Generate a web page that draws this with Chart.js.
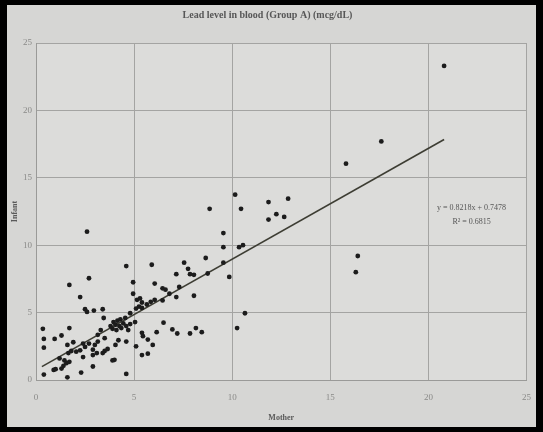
<!DOCTYPE html>
<html>
<head>
<meta charset="utf-8">
<script src="https://cdn.jsdelivr.net/npm/chart.js@4/dist/chart.umd.min.js"></script>
<style>
  html, body { margin: 0; padding: 0; background: #000; }
  #wrap { position: relative; width: 543px; height: 432px; }
</style>
</head>
<body>
<div id="wrap"><canvas id="c" width="543" height="432"></canvas></div>
<script>
// Blood lead levels (mcg/dL), Group A: mother vs. infant
const mother = [
  20.8, 17.6, 15.8, 16.4, 16.3,
  10.15, 10.45, 11.85, 12.85, 12.25, 12.65, 11.85, 9.55, 9.55, 10.35, 10.55, 9.55, 9.85, 10.65, 10.25, 8.85,
  5.9, 8.65, 7.55, 7.75, 7.85, 8.05, 7.15, 8.75, 6.05, 6.45, 6.6, 7.3, 6.8, 7.15, 8.05, 6.45, 6.5, 6.15, 6.95, 7.2, 7.85, 8.15, 8.45,
  4.6, 4.95, 4.95,
  5.15, 5.3, 5.4, 5.25, 5.4, 5.65, 5.85, 6.05,
  5.1, 4.8, 5.4, 5.45, 5.7, 5.95, 5.1, 5.4, 5.7, 4.0, 4.6,
  2.6, 2.7, 1.7, 2.25, 2.5, 2.6, 2.95, 3.4, 3.45,
  0.35, 1.7, 1.3, 0.95, 0.4, 0.4,
  1.9, 1.6, 2.4, 2.7, 3.15, 3.3, 3.5, 4.2, 4.6, 4.05,
  3.8, 3.95, 4.05, 4.15, 4.25, 4.3, 4.45, 4.55, 4.7, 4.8, 5.05, 4.1, 3.9, 4.35, 4.6,
  1.2, 1.45, 1.65, 1.8, 2.05, 2.25, 2.5, 2.9, 3.0, 3.15, 3.1, 2.9, 3.4, 3.5, 3.65, 2.4,
  0.9, 1.0, 1.3, 1.4, 1.55, 1.7,
  0.4, 1.6, 2.3, 2.9, 3.9
];
const infant = [
  23.3, 17.7, 16.05, 9.2, 8.0,
  13.75, 12.7, 13.2, 13.45, 12.3, 12.1, 11.9, 10.9, 9.85, 9.85, 10.0, 8.7, 7.65, 4.95, 3.85, 12.7,
  8.55, 9.05, 8.7, 8.25, 7.85, 7.8, 7.85, 7.9, 7.15, 6.8, 6.7, 6.9, 6.4, 6.15, 6.25, 5.9, 4.25, 3.55, 3.75, 3.45, 3.45, 3.85, 3.55,
  8.45, 7.25, 6.4,
  5.95, 6.05, 5.75, 5.45, 5.35, 5.6, 5.8, 5.95,
  5.3, 4.95, 3.5, 3.25, 3.0, 2.6, 2.5, 1.85, 1.95, 1.5, 0.45,
  11.0, 7.55, 7.05, 6.15, 5.25, 5.05, 5.15, 5.25, 4.6,
  3.8, 3.85, 3.3, 3.05, 3.05, 2.4,
  2.8, 2.6, 2.7, 2.7, 3.35, 3.7, 3.1, 2.95, 2.85, 2.6,
  4.0, 4.3, 4.1, 4.4, 4.0, 4.5, 4.2, 4.6, 3.7, 4.15, 4.3, 3.7, 3.8, 3.85, 4.0,
  1.6, 1.45, 2.0, 2.15, 2.1, 2.2, 2.45, 2.25, 2.6, 2.85, 2.0, 1.85, 2.0, 2.15, 2.3, 1.7,
  0.75, 0.8, 0.85, 1.05, 1.25, 1.35,
  0.4, 0.2, 0.55, 1.0, 1.45
];

// Linear trend fitted to the data
const slope = 0.8218;
const intercept = 0.7478;
const rSquared = 0.6815;
const trendRange = [0.3, 20.8];

const axisTicks = [0, 5, 10, 15, 20, 25];

const chartTitle = 'Lead level in blood (Group A) (mcg/dL)';
const xTitle = 'Mother';
const yTitle = 'Infant';

const points = mother.map((m, i) => ({ x: m, y: infant[i] }));
const trend = trendRange.map(x => ({ x: x, y: slope * x + intercept }));

const serif = '"Liberation Serif", "DejaVu Serif", serif';

// Black photo frame with a grey panel behind the chart
const framePlugin = {
  id: 'frame',
  beforeDraw(chart) {
    const ctx = chart.ctx;
    ctx.save();
    ctx.fillStyle = '#000';
    ctx.fillRect(0, 0, chart.width, chart.height);
    ctx.fillStyle = '#d6d6d4';
    ctx.fillRect(7, 5, 529, 422);
    const a = chart.chartArea;
    ctx.fillStyle = '#dcdcda';
    ctx.fillRect(a.left, a.top, a.right - a.left, a.bottom - a.top);
    ctx.restore();
  }
};

// Equation and R² label next to the trend line
const equationPlugin = {
  id: 'equation',
  afterDatasetsDraw(chart) {
    const ctx = chart.ctx;
    const xs = chart.scales.x, ys = chart.scales.y;
    const cx = xs.getPixelForValue(22.2);
    const cy = ys.getPixelForValue(12.8);
    ctx.save();
    ctx.fillStyle = '#555';
    ctx.font = '8px ' + serif;
    ctx.textAlign = 'center';
    ctx.textBaseline = 'middle';
    ctx.fillText('y = ' + slope.toFixed(4) + 'x + ' + intercept.toFixed(4), cx, cy);
    ctx.fillText('R\u00B2 = ' + rSquared.toFixed(4), cx, cy + 14);
    ctx.restore();
  }
};

new Chart(document.getElementById('c'), {
  type: 'scatter',
  data: {
    datasets: [
      {
        label: 'Infant',
        data: points,
        backgroundColor: '#1c1c1c',
        borderColor: '#1c1c1c',
        pointRadius: 2.4,
        pointHoverRadius: 2.4,
        borderWidth: 0
      },
      {
        type: 'line',
        label: 'Linear',
        data: trend,
        borderColor: '#3d3d33',
        borderWidth: 1.6,
        pointRadius: 0,
        fill: false
      }
    ]
  },
  options: {
    responsive: false,
    animation: false,
    layout: { padding: { left: 8, right: 16, top: 5, bottom: 4 } },
    plugins: {
      legend: { display: false },
      tooltip: { enabled: false },
      title: {
        display: true,
        text: chartTitle,
        color: '#575757',
        font: { family: serif, size: 10, weight: 'bold' },
        padding: { top: 4, bottom: 22 }
      }
    },
    scales: {
      x: {
        type: 'linear',
        min: 0,
        max: 25,
        afterBuildTicks(scale) { scale.ticks = axisTicks.map(v => ({ value: v })); },
        afterFit(scale) { scale.height = 48; },
        grid: { color: '#a4a4a2', lineWidth: 1, drawTicks: false },
        border: { color: '#9a9a98' },
        ticks: {
          color: '#8a8a88',
          font: { family: serif, size: 9 },
          padding: 12,
          maxRotation: 0
        },
        title: {
          display: true,
          text: xTitle,
          color: '#5a5a5a',
          font: { family: serif, size: 8, weight: 'bold' },
          padding: { top: 0, bottom: 5 }
        }
      },
      y: {
        type: 'linear',
        min: 0,
        max: 25,
        afterBuildTicks(scale) { scale.ticks = axisTicks.map(v => ({ value: v })); },
        afterFit(scale) { scale.width = 28; },
        grid: { color: '#a4a4a2', lineWidth: 1, drawTicks: false },
        border: { color: '#9a9a98' },
        ticks: {
          color: '#8a8a88',
          font: { family: serif, size: 9 },
          padding: 4
        },
        title: {
          display: true,
          text: yTitle,
          color: '#5a5a5a',
          font: { family: serif, size: 8, weight: 'bold' },
          padding: { top: 2, bottom: 0 }
        }
      }
    }
  },
  plugins: [framePlugin, equationPlugin]
});
</script>
</body>
</html>
